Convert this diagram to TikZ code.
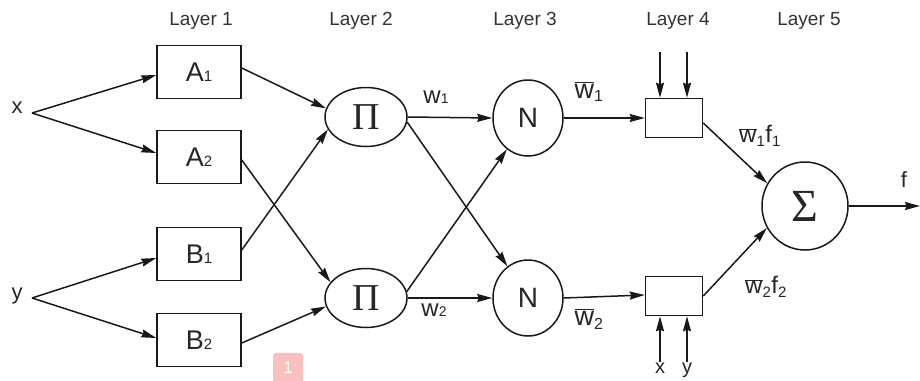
\documentclass[tikz,border=0pt]{standalone}
\usepackage{fontspec}
\setmainfont{Liberation Sans}
\newfontfamily\grkserif{Liberation Serif}
\usetikzlibrary{arrows.meta,shapes.geometric,calc}
\begin{document}
\begin{tikzpicture}[x=1pt,y=-1pt,
  line width=1.5pt,
  arr/.style={-{Stealth[length=15pt,width=8pt,inset=1.5pt]}, draw=black!90},
  lbox/.style={draw=black!90, rectangle, minimum width=84pt, minimum height=53pt, inner sep=0pt, text=black!85, font=\fontsize{27}{27}\selectfont},
  pnode/.style={draw=black!90, ellipse, minimum width=82pt, minimum height=59pt, inner sep=0pt, text=black!85, font=\grkserif\fontsize{38}{38}\selectfont},
  nnode/.style={draw=black!90, ellipse, minimum width=70pt, minimum height=76pt, inner sep=0pt, text=black!85, font=\fontsize{28}{28}\selectfont},
  snode/.style={draw=black!90, ellipse, minimum width=86pt, minimum height=88pt, inner sep=0pt, text=black!85, font=\grkserif\fontsize{46}{46}\selectfont},
  sbox/.style={draw=black!90, rectangle, minimum width=57pt, minimum height=39pt, inner sep=0pt},
  layer/.style={text=black!80, font=\fontsize{19}{19}\selectfont, inner sep=0pt},
  lab/.style={text=black!85, inner sep=0pt}
]
\useasboundingbox (0,0) rectangle (920,380);

% layer titles
\node[layer] (L1) at (201,21) {Layer 1};
\node[layer] (L2) at (361,21) {Layer 2};
\node[layer] (L3) at (525,21) {Layer 3};
\node[layer] (L4) at (678,21) {Layer 4};
\node[layer] (L5) at (809,21) {Layer 5};

% layer 1
\node[lbox] (A1) at (199,72) {A{\fontsize{15}{15}\selectfont 1}};
\node[lbox] (A2) at (199,157) {A{\fontsize{15}{15}\selectfont 2}};
\node[lbox] (B1) at (199,254) {B{\fontsize{15}{15}\selectfont 1}};
\node[lbox] (B2) at (199,340) {B{\fontsize{15}{15}\selectfont 2}};

% inputs
\node[lab, font=\fontsize{22}{22}\selectfont] (xin) at (17,108) {x};
\node[lab, font=\fontsize{22}{22}\selectfont] (yin) at (17,296) {y};
\coordinate (xs) at (32,113);
\coordinate (ys) at (32,298);

% layer 2
\node[pnode] (P1) at (366,117) {Π};
\node[pnode] (P2) at (366,298) {Π};

% layer 3
\node[nnode] (N1) at (528,118) {N};
\node[nnode] (N2) at (528,298) {N};

% layer 4
\node[sbox] (C1) at (674,118) {};
\node[sbox] (C2) at (674,296) {};
\coordinate (t1) at (660,52);
\coordinate (t2) at (687,52);
\node[lab, font=\fontsize{20}{20}\selectfont, anchor=north] (bx) at (660,362) {x};
\node[lab, font=\fontsize{20}{20}\selectfont, anchor=north] (by) at (687,362) {y};

% layer 5
\node[snode] (S) at (805,206) {Σ};
\coordinate (fo) at (920,206);
\node[lab, font=\fontsize{22}{22}\selectfont] (flab) at (904,180) {f};

% labels
\node[lab, font=\fontsize{24}{24}\selectfont] (w1) at (436,97) {w{\fontsize{14}{14}\selectfont 1}};
\node[lab, font=\fontsize{24}{24}\selectfont] (w2) at (434,310) {w{\fontsize{14}{14}\selectfont 2}};
\node[lab, font=\fontsize{27}{27}\selectfont] (wb1) at (589,92) {$\overline{\hbox{w}}_{\hbox{\fontsize{16}{16}\selectfont 1}}$};
\node[lab, font=\fontsize{27}{27}\selectfont] (wb2) at (589,319) {$\overline{\hbox{w}}_{\hbox{\fontsize{16}{16}\selectfont 2}}$};
\node[lab, font=\fontsize{24}{24}\selectfont] (wf1) at (760,136) {$\overline{\hbox{w}}_{\hbox{\fontsize{15}{15}\selectfont 1}}\hbox{f}_{\hbox{\fontsize{15}{15}\selectfont 1}}$};
\node[lab, font=\fontsize{24}{24}\selectfont] (wf2) at (766,287) {$\overline{\hbox{w}}_{\hbox{\fontsize{15}{15}\selectfont 2}}\hbox{f}_{\hbox{\fontsize{15}{15}\selectfont 2}}$};

% arrows: inputs to layer 1
\draw[arr] (xs) -- ([yshift=-3pt]A1.west);
\draw[arr] (xs) -- ([yshift=4pt]A2.west);
\draw[arr] (ys) -- ([yshift=-4pt]B1.west);
\draw[arr] (ys) -- ([yshift=2pt]B2.west);

% layer 1 to layer 2
\draw[arr] ([yshift=4pt]A1.east) -- (P1.168);
\draw[arr] ([yshift=-3pt]A2.east) -- (P2.156);
\draw[arr] ([yshift=4pt]B1.east) -- (P1.198);
\draw[arr] ([yshift=-3pt]B2.east) -- (P2.192);

% layer 2 to layer 3
\draw[arr] (P1.east) -- (N1.west);
\draw[arr] (P1.-7) -- (N2.123);
\draw[arr] (P2.9) -- (N1.236);
\draw[arr] (P2.east) -- (N2.west);

% layer 3 to layer 4
\draw[arr] (N1.east) -- (C1.west);
\draw[arr] (N2.east) -- ([yshift=1pt]C2.west);
\draw[arr] (t1) -- (t1 |- C1.north);
\draw[arr] (t2) -- (t2 |- C1.north);
\draw[arr] (bx.north) -- (bx.north |- C2.south);
\draw[arr] (by.north) -- (by.north |- C2.south);

% layer 4 to layer 5
\draw[arr] ([yshift=-5pt]C1.east) -- (S.149);
\draw[arr] (C2.east) -- (S.210);
\draw[arr] (S.east) -- (fo);

% badge
\node[fill={rgb,255:red,250;green,192;blue,192}, rounded corners=3pt, minimum width=30pt, minimum height=30pt, inner sep=0pt, text=white, font=\fontsize{17}{17}\selectfont, anchor=north] (badge) at (288,352) {1};
\end{tikzpicture}
\end{document}
